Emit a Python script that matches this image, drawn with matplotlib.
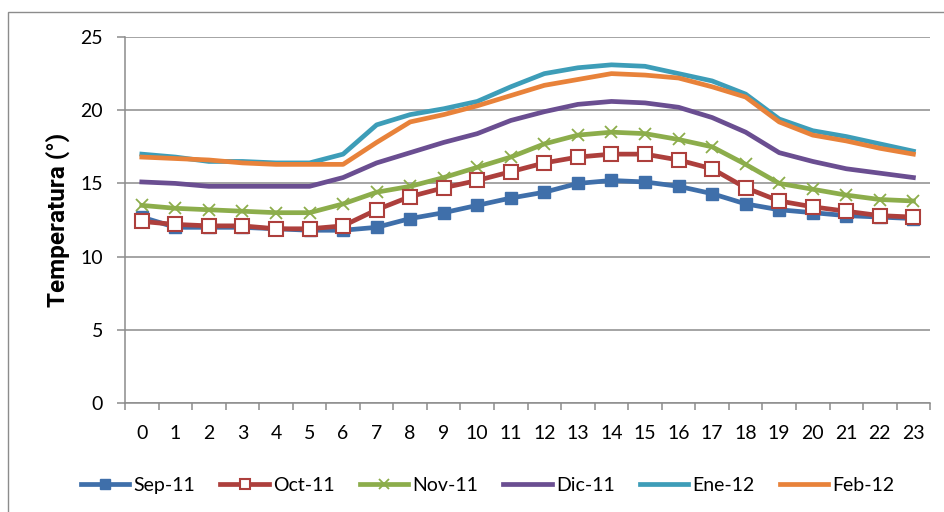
import matplotlib.pyplot as plt
from matplotlib.patches import Rectangle

# Hourly mean temperature per month
horas = list(range(24))

sep_11 = [12.7, 12.0, 12.0, 12.0, 11.9, 11.8, 11.8, 12.0, 12.6, 13.0, 13.5, 14.0,
          14.4, 15.0, 15.2, 15.1, 14.8, 14.3, 13.6, 13.2, 13.0, 12.8, 12.7, 12.6]
oct_11 = [12.4, 12.2, 12.1, 12.1, 11.9, 11.9, 12.1, 13.2, 14.1, 14.7, 15.2, 15.8,
          16.4, 16.8, 17.0, 17.0, 16.6, 16.0, 14.7, 13.8, 13.4, 13.1, 12.8, 12.7]
nov_11 = [13.5, 13.3, 13.2, 13.1, 13.0, 13.0, 13.6, 14.4, 14.8, 15.4, 16.1, 16.8,
          17.7, 18.3, 18.5, 18.4, 18.0, 17.5, 16.3, 15.0, 14.6, 14.2, 13.9, 13.8]
dic_11 = [15.1, 15.0, 14.8, 14.8, 14.8, 14.8, 15.4, 16.4, 17.1, 17.8, 18.4, 19.3,
          19.9, 20.4, 20.6, 20.5, 20.2, 19.5, 18.5, 17.1, 16.5, 16.0, 15.7, 15.4]
ene_12 = [17.0, 16.8, 16.5, 16.5, 16.4, 16.4, 17.0, 19.0, 19.7, 20.1, 20.6, 21.6,
          22.5, 22.9, 23.1, 23.0, 22.5, 22.0, 21.1, 19.4, 18.6, 18.2, 17.7, 17.2]
feb_12 = [16.8, 16.7, 16.6, 16.4, 16.3, 16.3, 16.3, 17.8, 19.2, 19.7, 20.3, 21.0,
          21.7, 22.1, 22.5, 22.4, 22.2, 21.6, 20.9, 19.2, 18.3, 17.9, 17.4, 17.0]

plt.rcParams['font.family'] = ['Lato', 'DejaVu Sans']

fig = plt.figure(figsize=(9.45, 5.12), dpi=100)
ax = fig.add_axes([0.1323, 0.2129, 0.852, 0.7148])

# chart area frame (top and left edges visible)
fig.patches.append(Rectangle((8 / 945, -0.1), 1.2, 1.1 - 12 / 512,
                             transform=fig.transFigure, fill=False,
                             edgecolor='#8c8c8c', linewidth=1.0))

lw = 3.4
ax.plot(horas, sep_11, color='#3f6faa', lw=lw, marker='s', markersize=9,
        label='Sep-11', zorder=3)
ax.plot(horas, oct_11, color='#ad3f3c', lw=lw, marker='s', markersize=9.5,
        markerfacecolor='white', markeredgecolor='#ad3f3c', markeredgewidth=1.5,
        label='Oct-11', zorder=4)
ax.plot(horas, nov_11, color='#8cad4b', lw=lw, marker='x', markersize=9,
        markeredgewidth=1.3, label='Nov-11', zorder=3)
ax.plot(horas, dic_11, color='#6a4e91', lw=lw, label='Dic-11', zorder=3)
ax.plot(horas, ene_12, color='#3d9db8', lw=lw, label='Ene-12', zorder=3)
ax.plot(horas, feb_12, color='#e8823a', lw=lw, label='Feb-12', zorder=3)

ax.set_xlim(-0.5, 23.5)
ax.set_ylim(0, 25)
ax.set_yticks(range(0, 26, 5))
ax.set_xticks(horas)
ax.set_xticks([h - 0.5 for h in range(25)], minor=True)
ax.tick_params(axis='x', which='major', length=0, pad=16, labelsize=14)
ax.tick_params(axis='x', which='minor', length=5, width=1.1, color='#8c8c8c',
               direction='out')
ax.tick_params(axis='y', length=6, width=1.1, color='#8c8c8c', pad=10,
               labelsize=14)

ax.grid(axis='y', color='#8c8c8c', linewidth=1.1)
ax.set_axisbelow(True)
for side in ('top', 'right'):
    ax.spines[side].set_visible(False)
for side in ('left', 'bottom'):
    ax.spines[side].set_color('#8c8c8c')
    ax.spines[side].set_linewidth(1.1)

ax.set_ylabel('Temperatura (°)', fontsize=17.5, fontweight='bold',
              family=['Roboto', 'DejaVu Sans'], labelpad=7)

ax.legend(loc='center', bbox_to_anchor=(0.516, 0.052),
          bbox_transform=fig.transFigure, ncol=6, frameon=False,
          fontsize=14, handlelength=2.5, handletextpad=0.2,
          columnspacing=1.3, markerscale=0.8)

fig.savefig('out.png', dpi=100)
